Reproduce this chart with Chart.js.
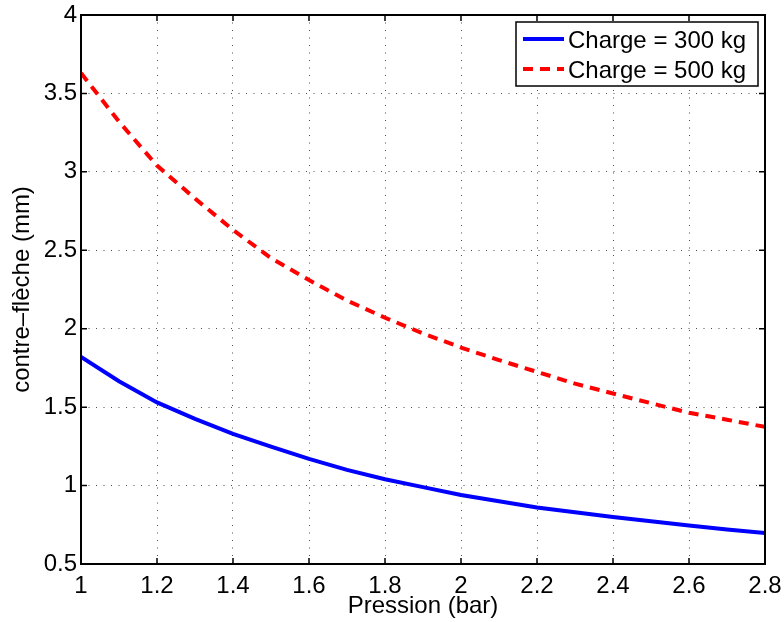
<!DOCTYPE html>
<html>
<head>
<meta charset="utf-8">
<script src="https://cdn.jsdelivr.net/npm/chart.js@4.4.0/dist/chart.umd.min.js"></script>
<style>
    html, body { margin: 0; padding: 0; background: #fff; }
    #wrap { width: 784px; height: 622px; }
</style>
</head>
<body>
<div id="wrap"><canvas id="pressureChart" width="784" height="622"></canvas></div>
<script>
// Data
const pressures = [1.0, 1.1, 1.2, 1.3, 1.4, 1.5, 1.6, 1.7, 1.8, 1.9, 2.0, 2.1, 2.2, 2.3, 2.4, 2.5, 2.6, 2.7, 2.8];
const charge300 = [1.82, 1.665, 1.53, 1.425, 1.33, 1.248, 1.17, 1.10, 1.04, 0.99, 0.94, 0.90, 0.86, 0.83, 0.80, 0.772, 0.746, 0.72, 0.698];
const charge500 = [3.63, 3.32, 3.04, 2.83, 2.63, 2.45, 2.31, 2.18, 2.07, 1.97, 1.88, 1.80, 1.725, 1.65, 1.587, 1.525, 1.464, 1.42, 1.374];
const seriesLabels = ["Charge = 300 kg", "Charge = 500 kg"];
const xTicks = [1, 1.2, 1.4, 1.6, 1.8, 2, 2.2, 2.4, 2.6, 2.8];
const yTicks = [0.5, 1, 1.5, 2, 2.5, 3, 3.5, 4];

const FONT = "'Liberation Sans', Arial, Helvetica, sans-serif";

const toPoints = (ys) => pressures.map((p, i) => ({ x: p, y: ys[i] }));

// frame on all four sides + inward tick marks, like matlab's box
const framePlugin = {
    id: "frame",
    afterDatasetsDraw(chart) {
        const { ctx, chartArea: a, scales } = chart;
        ctx.save();
        ctx.strokeStyle = "#000";
        ctx.lineWidth = 1.5;
        const len = 6;
        ctx.beginPath();
        xTicks.forEach(v => {
            const px = scales.x.getPixelForValue(v);
            ctx.moveTo(px, a.bottom); ctx.lineTo(px, a.bottom - len);
            ctx.moveTo(px, a.top); ctx.lineTo(px, a.top + len);
        });
        yTicks.forEach(v => {
            const py = scales.y.getPixelForValue(v);
            ctx.moveTo(a.left, py); ctx.lineTo(a.left + len, py);
            ctx.moveTo(a.right, py); ctx.lineTo(a.right - len, py);
        });
        ctx.stroke();
        ctx.lineWidth = 2;
        ctx.strokeRect(a.left, a.top, a.right - a.left, a.bottom - a.top);
        ctx.restore();
    },
};

// boxed legend in the top-right corner of the plot
const boxLegend = {
    id: "boxLegend",
    afterDraw(chart) {
        const { ctx, chartArea: a } = chart;
        const boxW = 242, boxH = 64;
        const x0 = a.right - 7 - boxW;
        const y0 = a.top + 7;
        ctx.save();
        ctx.fillStyle = "#fff";
        ctx.fillRect(x0, y0, boxW, boxH);
        ctx.strokeStyle = "#000";
        ctx.lineWidth = 1.5;
        ctx.strokeRect(x0, y0, boxW, boxH);
        ctx.font = "24px " + FONT;
        ctx.textBaseline = "alphabetic";
        chart.data.datasets.forEach((ds, i) => {
            const ly = y0 + 17 + i * 30;
            ctx.beginPath();
            ctx.strokeStyle = ds.borderColor;
            ctx.lineWidth = ds.borderWidth;
            ctx.setLineDash(ds.borderDash || []);
            ctx.moveTo(x0 + 7, ly);
            ctx.lineTo(x0 + 48, ly);
            ctx.stroke();
            ctx.setLineDash([]);
            ctx.fillStyle = "#000";
            ctx.fillText(ds.label, x0 + 52, ly + 9);
        });
        ctx.restore();
    },
};

// keep the plot box where the layout padding puts it
const noOverhang = (scale) => {
    scale.paddingLeft = 0;
    scale.paddingRight = 0;
    scale.paddingTop = 0;
    scale.paddingBottom = 0;
};

const ctx = document.getElementById("pressureChart").getContext("2d");
const pressureChart = new Chart(ctx, {
    type: "line",
    data: {
        datasets: [
            {
                label: seriesLabels[0],
                data: toPoints(charge300),
                borderColor: "#0000ff",
                borderWidth: 4,
                pointRadius: 0,
                tension: 0,
            },
            {
                label: seriesLabels[1],
                data: toPoints(charge500),
                borderColor: "#ff0000",
                borderWidth: 4,
                borderDash: [10, 7],
                pointRadius: 0,
                tension: 0,
            },
        ],
    },
    options: {
        responsive: false,
        animation: false,
        layout: { padding: { top: 15, right: 19, left: 0, bottom: 0 } },
        plugins: {
            legend: { display: false },
            tooltip: { enabled: false },
        },
        scales: {
            x: {
                type: "linear",
                min: 1,
                max: 2.8,
                afterBuildTicks: (scale) => { scale.ticks = xTicks.map(v => ({ value: v })); },
                afterFit: (scale) => { scale.height = 58; noOverhang(scale); },
                ticks: {
                    color: "#000",
                    padding: 8,
                    maxRotation: 0,
                    font: { family: FONT, size: 24 },
                    callback: (v) => String(v),
                },
                grid: {
                    color: "rgba(0,0,0,0.7)",
                    lineWidth: 1,
                    drawTicks: false,
                },
                border: { display: false, dash: [1, 6.5] },
                title: {
                    display: true,
                    text: "Pression (bar)",
                    color: "#000",
                    font: { family: FONT, size: 24 },
                    padding: { top: 0, bottom: 1 },
                },
            },
            y: {
                type: "linear",
                min: 0.5,
                max: 4,
                afterBuildTicks: (scale) => { scale.ticks = yTicks.map(v => ({ value: v })); },
                afterFit: (scale) => { scale.width = 81; noOverhang(scale); },
                ticks: {
                    color: "#000",
                    padding: 4,
                    font: { family: FONT, size: 24 },
                    callback: (v) => String(v),
                },
                grid: {
                    color: "rgba(0,0,0,0.7)",
                    lineWidth: 1,
                    drawTicks: false,
                },
                border: { display: false, dash: [1, 6.5] },
                title: {
                    display: true,
                    text: "contre–flèche (mm)",
                    color: "#000",
                    font: { family: FONT, size: 24 },
                    padding: { top: 8, bottom: 0 },
                },
            },
        },
    },
    plugins: [framePlugin, boxLegend],
});
</script>
</body>
</html>
